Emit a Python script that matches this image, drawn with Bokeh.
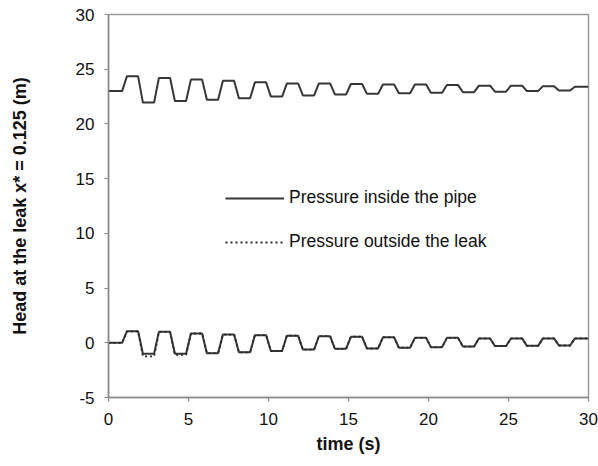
from bokeh.plotting import figure
from bokeh.models import Legend, LegendItem, FixedTicker, Range1d, CustomJSTickFormatter
from bokeh.embed import file_html
from bokeh.resources import INLINE

# Time vertices of the oscillation (s)
time_s = [0, 0.85, 1.15, 1.85, 2.15, 2.85, 3.15, 3.85, 4.15, 4.85, 5.15, 5.85, 6.15,
          6.85, 7.15, 7.85, 8.15, 8.85, 9.15, 9.85, 10.15, 10.85, 11.15, 11.85, 12.15,
          12.85, 13.15, 13.85, 14.15, 14.85, 15.15, 15.85, 16.15, 16.85, 17.15, 17.85,
          18.15, 18.85, 19.15, 19.85, 20.15, 20.85, 21.15, 21.85, 22.15, 22.85, 23.15,
          23.85, 24.15, 24.85, 25.15, 25.85, 26.15, 26.85, 27.15, 27.85, 28.15, 28.85,
          29.15, 30]

# Head inside the pipe (m)
head_inside = [23.0, 23.0, 24.35, 24.35, 21.95, 21.95, 24.2, 24.2, 22.1, 22.1, 24.05, 24.05,
               22.2, 22.2, 23.95, 23.95, 22.35, 22.35, 23.8, 23.8, 22.5, 22.5, 23.7, 23.7,
               22.6, 22.6, 23.7, 23.7, 22.7, 22.7, 23.65, 23.65, 22.75, 22.75, 23.6, 23.6,
               22.8, 22.8, 23.6, 23.6, 22.85, 22.85, 23.55, 23.55, 22.9, 22.9, 23.5, 23.5,
               22.95, 22.95, 23.5, 23.5, 23.0, 23.0, 23.45, 23.45, 23.05, 23.05, 23.4, 23.4]

# Head near the leak, low branch (m)
head_low = [0.0, 0.0, 1.05, 1.05, -1.0, -1.0, 1.0, 1.0, -1.0, -1.0, 0.85, 0.85,
            -0.95, -0.95, 0.75, 0.75, -0.87, -0.87, 0.7, 0.7, -0.75, -0.75, 0.65, 0.65,
            -0.62, -0.62, 0.6, 0.6, -0.55, -0.55, 0.55, 0.55, -0.52, -0.52, 0.5, 0.5,
            -0.45, -0.45, 0.45, 0.45, -0.4, -0.4, 0.45, 0.45, -0.35, -0.35, 0.4, 0.4,
            -0.3, -0.3, 0.4, 0.4, -0.28, -0.28, 0.4, 0.4, -0.25, -0.25, 0.4, 0.4]

# Head outside the leak (m)
head_outside = [0.0, 0.0, 1.05, 1.05, -1.25, -1.25, 1.0, 1.0, -1.1, -1.1, 0.85, 0.85,
                -0.95, -0.95, 0.75, 0.75, -0.87, -0.87, 0.7, 0.7, -0.75, -0.75, 0.65, 0.65,
                -0.62, -0.62, 0.6, 0.6, -0.55, -0.55, 0.55, 0.55, -0.52, -0.52, 0.5, 0.5,
                -0.45, -0.45, 0.45, 0.45, -0.4, -0.4, 0.45, 0.45, -0.35, -0.35, 0.4, 0.4,
                -0.3, -0.3, 0.4, 0.4, -0.28, -0.28, 0.4, 0.4, -0.25, -0.25, 0.4, 0.4]

x_ticks = [0, 5, 10, 15, 20, 25, 30]
y_ticks = [-5, 0, 5, 10, 15, 20, 25, 30]

FONT = "Liberation Sans"
LINE = "#363636"

p = figure(width=598, height=466, output_backend="svg", toolbar_location=None,
           x_range=Range1d(0, 30), y_range=Range1d(-5, 30),
           min_border_left=108, min_border_right=10, min_border_top=14, min_border_bottom=69)

p.grid.visible = False
p.outline_line_color = "#9a9a9a"
p.outline_line_width = 1.5

r_in = p.line(time_s, head_inside, line_color=LINE, line_width=2)
p.line(time_s, head_low, line_color=LINE, line_width=2)
r_out = p.line(time_s, head_outside, line_color="#2a2a2a", line_width=1.8, line_dash="2 3")

for ax in (p.xaxis[0], p.yaxis[0]):
    ax.axis_line_color = "#8a8a8a"
    ax.axis_line_width = 1.5
    ax.major_tick_line_color = "#8a8a8a"
    ax.major_tick_line_width = 1.2
    ax.minor_tick_line_color = None
    ax.major_tick_in = 0
    ax.major_tick_out = 4
    ax.major_label_text_font = FONT
    ax.major_label_text_font_size = "17px"
    ax.major_label_text_color = "#111111"
    ax.axis_label_text_font = FONT
    ax.axis_label_text_font_size = "18px"
    ax.axis_label_text_font_style = "bold"
    ax.axis_label_text_color = "#111111"
    ax.formatter = CustomJSTickFormatter(code="return tick.toString();")

p.xaxis.ticker = FixedTicker(ticks=x_ticks)
p.yaxis.ticker = FixedTicker(ticks=y_ticks)
p.xaxis.axis_label = "time (s)"
p.yaxis.axis_label = "Head at the leak x* = 0.125 (m)"
p.xaxis.major_label_standoff = 11
p.xaxis.axis_label_standoff = 6
p.yaxis.major_label_standoff = 10
p.yaxis.axis_label_standoff = 43

legend = Legend(items=[LegendItem(label="Pressure inside the pipe", renderers=[r_in]),
                       LegendItem(label="Pressure outside the leak", renderers=[r_out])],
                location=(117, 145), glyph_width=59, glyph_height=20, label_height=20,
                label_standoff=5, spacing=23, padding=10, margin=0,
                border_line_color=None, background_fill_alpha=0,
                label_text_font=FONT, label_text_font_size="17.5px",
                label_text_color="#111111")
p.add_layout(legend)

open("out.html", "w").write(file_html(p, INLINE))
